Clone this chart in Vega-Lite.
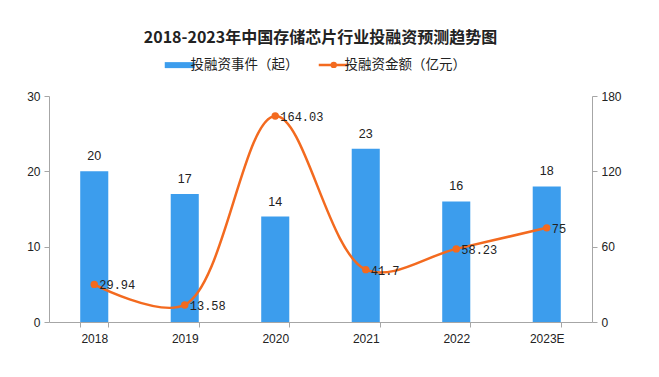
{
  "$schema": "https://vega.github.io/schema/vega-lite/v6.json",
  "width": 543,
  "height": 226,
  "autosize": {"type": "none"},
  "padding": {"left": 49, "top": 96, "right": 67, "bottom": 55},
  "background": "white",
  "title": {
    "text": "2018-2023年中国存储芯片行业投融资预测趋势图",
    "font": "Noto Sans CJK SC",
    "fontSize": 16,
    "fontWeight": "bold",
    "color": "#222222",
    "anchor": "middle",
    "offset": 12
  },
  "config": {
    "view": {"stroke": null},
    "font": "Liberation Sans",
    "axis": {
      "grid": false,
      "domainColor": "#a6a6a6",
      "tickColor": "#a6a6a6",
      "labelColor": "#222222",
      "labelFont": "Liberation Sans",
      "labelFontSize": 12,
      "tickSize": 5,
      "title": null
    },
    "legend": {
      "title": null,
      "labelFont": "Noto Sans CJK SC",
      "labelFontSize": 13.5,
      "labelColor": "#222222",
      "columnPadding": 14
    }
  },
  "data": {
    "values": [
      {"year": "2018", "events": 20, "amount": 29.94},
      {"year": "2019", "events": 17, "amount": 13.58},
      {"year": "2020", "events": 14, "amount": 164.03},
      {"year": "2021", "events": 23, "amount": 41.7},
      {"year": "2022", "events": 16, "amount": 58.23},
      {"year": "2023E", "events": 18, "amount": 75}
    ]
  },
  "encoding": {
    "x": {
      "field": "year",
      "type": "ordinal",
      "sort": null,
      "scale": {"paddingInner": 0.69, "paddingOuter": 0.345},
      "axis": {"labelAngle": 0, "tickBand": "extent", "labelPadding": 6, "domainColor": "#a6a6a6"}
    }
  },
  "layer": [
    {
      "layer": [
        {
          "mark": {"type": "bar", "color": "#3c9ded"},
          "encoding": {
            "y": {
              "field": "events",
              "type": "quantitative",
              "scale": {"domain": [0, 30]},
              "axis": {"values": [0, 10, 20, 30], "orient": "left", "labelPadding": 4}
            },
            "color": {
              "datum": "投融资事件（起）",
              "type": "nominal",
              "scale": {
                "domain": ["投融资事件（起）", "投融资金额（亿元）"],
                "range": ["#3c9ded", "#f36a1f"]
              },
              "legend": {
                "orient": "none",
                "direction": "horizontal",
                "legendX": 124,
                "legendY": -38,
                "symbolType": "stroke",
                "symbolStrokeWidth": 6,
                "symbolSize": 900,
                "labelOffset": 4,
                "encode": {
                  "symbols": {
                    "update": {
                      "shape": {"signal": "datum.value == '投融资事件（起）' ? 'M-1,-0.2H1V0.2H-1Z' : 'M-1,0H1M-0.13,0A0.13,0.13 0 1,0 0.13,0A0.13,0.13 0 1,0 -0.13,0'"},
                      "strokeWidth": {"signal": "datum.value == '投融资事件（起）' ? 0 : 2.5"},
                      "fill": {"signal": "datum.value == '投融资事件（起）' ? '#3c9ded' : '#f36a1f'"},
                      "stroke": {"signal": "datum.value == '投融资事件（起）' ? '#3c9ded' : '#f36a1f'"},
                      "fillOpacity": {"value": 1}
                    }
                  }
                }
              }
            }
          }
        },
        {
          "mark": {"type": "text", "dy": -15, "fontSize": 12.5, "color": "#222222", "font": "Liberation Sans"},
          "encoding": {
            "y": {"field": "events", "type": "quantitative", "scale": {"domain": [0, 30]}},
            "text": {"field": "events", "type": "quantitative"}
          }
        }
      ]
    },
    {
      "layer": [
        {
          "mark": {"type": "line", "interpolate": "catmull-rom", "strokeWidth": 2.5, "color": "#f36a1f"},
          "encoding": {
            "y": {
              "field": "amount",
              "type": "quantitative",
              "scale": {"domain": [0, 180]},
              "axis": {"values": [0, 60, 120, 180], "orient": "right", "labelPadding": 4}
            },
            "color": {"datum": "投融资金额（亿元）", "type": "nominal"}
          }
        },
        {
          "mark": {"type": "point", "filled": true, "size": 55, "opacity": 1, "color": "#f36a1f"},
          "encoding": {
            "y": {"field": "amount", "type": "quantitative", "scale": {"domain": [0, 180]}}
          }
        },
        {
          "mark": {"type": "text", "align": "left", "dx": 5, "dy": 1, "fontSize": 12, "color": "#222222", "font": "Liberation Mono"},
          "encoding": {
            "y": {"field": "amount", "type": "quantitative", "scale": {"domain": [0, 180]}},
            "text": {"field": "amount", "type": "quantitative"}
          }
        }
      ]
    }
  ],
  "resolve": {"scale": {"y": "independent", "color": "shared"}}
}
